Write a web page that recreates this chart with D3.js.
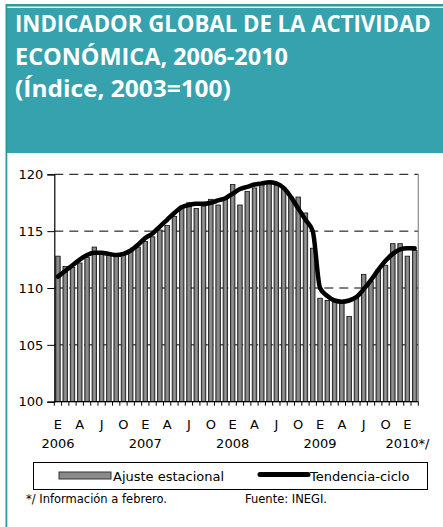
<!DOCTYPE html>
<html>
<head>
<meta charset="utf-8">
<script src="https://cdn.jsdelivr.net/npm/d3@7"></script>
<style>
  html, body { margin: 0; padding: 0; background: #fff; }
  svg { display: block; }
</style>
</head>
<body>
<div id="chart"></div>
<script>
// ── Data ─────────────────────────────────────────────────────────────────────
const titleLines = ['INDICADOR GLOBAL DE LA ACTIVIDAD', 'ECONÓMICA, 2006-2010', '(Índice, 2003=100)'];

// Jan 2006 .. Feb 2010 (50 months)
const ajusteEstacional = [
  112.8, 111.9, 111.8, 112.2, 112.7, 113.6, 113.1, 113.0, 113.0, 113.1, 113.3, 113.6,
  114.1, 114.5, 115.1, 115.5, 116.3, 117.2, 117.5, 117.0, 117.2, 117.8, 117.3, 117.8,
  119.1, 117.3, 118.5, 118.8, 119.1, 119.2, 119.0, 118.8, 118.0, 118.0, 116.6, 113.5,
  109.1, 108.9, 108.8, 108.8, 107.5, 109.1, 111.2, 110.6, 111.6, 112.0, 113.9, 113.9,
  112.8, 113.3
];
const tendenciaCiclo = [
  111.0, 111.5, 112.0, 112.5, 112.9, 113.1, 113.1, 113.0, 112.9, 113.0, 113.3, 113.8,
  114.4, 114.8, 115.4, 116.0, 116.6, 117.1, 117.3, 117.4, 117.4, 117.5, 117.7, 117.9,
  118.3, 118.7, 118.9, 119.1, 119.2, 119.3, 119.2, 118.8, 118.0, 117.0, 116.0, 115.0,
  110.0, 109.3, 108.9, 108.8, 108.9, 109.2, 109.9, 110.7, 111.6, 112.4, 113.0, 113.4,
  113.5, 113.5
];
const monthLetters = ['E', 'A', 'J', 'O'];       // every 3rd month
const yearLabels   = ['2006', '2007', '2008', '2009', '2010*/'];
const yTicks       = [100, 105, 110, 115, 120];
const legendNames  = ['Ajuste estacional', 'Tendencia-ciclo'];
const footNote     = '*/ Información a febrero.';
const sourceNote   = 'Fuente: INEGI.';

// ── Layout ───────────────────────────────────────────────────────────────────
const W = 443, H = 527;
const TEAL = '#35a2ae', TEAL_DARK = '#2a9a9c';
const FONT = 'DejaVu Sans, Verdana, sans-serif';
const plot = { left: 54.3, right: 418.3, top: 174.3, bottom: 401.7 };
const titleWidths = [416, 273, 216];

const svg = d3.select('#chart').append('svg')
  .attr('width', W).attr('height', H)
  .style('font-family', FONT);

// header / frame
svg.append('rect').attr('x', 6).attr('y', 4).attr('width', W - 6).attr('height', 2.5).attr('fill', TEAL_DARK);
svg.append('rect').attr('x', 6).attr('y', 8).attr('width', W - 6).attr('height', 145).attr('fill', TEAL);
svg.append('rect').attr('x', 5.5).attr('y', 4).attr('width', 1.8).attr('height', H - 4).attr('fill', TEAL_DARK);

// title lines, each squeezed horizontally to the reference width
titleLines.forEach((t, i) => {
  const g = svg.append('g');
  const txt = g.append('text')
    .attr('x', 0).attr('y', 0)
    .attr('fill', '#fff')
    .style('font-family', 'Open Sans, Lato, sans-serif')
    .style('font-weight', 'bold')
    .style('font-size', '24px')
    .text(t);
  const sx = titleWidths[i] / txt.node().getComputedTextLength();
  g.attr('transform', `translate(15,${32 + i * 32.5}) scale(${sx},1)`);
});

// ── Scales ───────────────────────────────────────────────────────────────────
const months = d3.range(ajusteEstacional.length);
const x = d3.scaleBand().domain(months).range([plot.left, plot.right]).paddingInner(0.38).paddingOuter(0.19);
const y = d3.scaleLinear().domain([100, 120]).range([plot.bottom, plot.top]);
const cx = i => x(i) + x.bandwidth() / 2;

// gridlines
svg.append('g').selectAll('line')
  .data(yTicks.filter(v => v > 100)).enter().append('line')
  .attr('x1', plot.left).attr('x2', plot.right)
  .attr('y1', d => y(d)).attr('y2', d => y(d))
  .attr('stroke', '#000').attr('stroke-width', 1)
  .attr('stroke-dasharray', '9,6');

// right border
svg.append('line')
  .attr('x1', plot.right).attr('x2', plot.right)
  .attr('y1', plot.top).attr('y2', plot.bottom)
  .attr('stroke', '#888').attr('stroke-width', 1.2);

// bars
const grad = svg.append('defs').append('linearGradient').attr('id', 'barGrad')
  .attr('x1', '0%').attr('x2', '100%');
grad.append('stop').attr('offset', '0%').attr('stop-color', '#666');
grad.append('stop').attr('offset', '50%').attr('stop-color', '#959595');
grad.append('stop').attr('offset', '100%').attr('stop-color', '#666');

svg.append('g').selectAll('rect')
  .data(ajusteEstacional).enter().append('rect')
  .attr('x', (d, i) => x(i))
  .attr('y', d => y(d))
  .attr('width', x.bandwidth())
  .attr('height', d => y(100) - y(d))
  .attr('fill', 'url(#barGrad)')
  .attr('stroke', '#111').attr('stroke-width', 0.8);

// axes
const yAxis = d3.axisLeft(y).tickValues(yTicks).tickSize(7).tickPadding(4);
const gy = svg.append('g').attr('transform', `translate(${plot.left},0)`).call(yAxis);
gy.select('.domain').attr('stroke', '#000').attr('stroke-width', 1.2);
gy.selectAll('.tick line').attr('stroke', '#000');
gy.selectAll('.tick text').style('font-family', FONT).style('font-size', '13px').attr('fill', '#000');

const step = x.step();
const gx = svg.append('g').attr('transform', `translate(0,${plot.bottom})`);
gx.append('line').attr('x1', plot.left).attr('x2', plot.right).attr('stroke', '#000').attr('stroke-width', 1.2);
gx.selectAll('line.tk').data(d3.range(months.length + 1)).enter().append('line')
  .attr('class', 'tk')
  .attr('x1', i => plot.left + i * step).attr('x2', i => plot.left + i * step)
  .attr('y1', 0).attr('y2', 4)
  .attr('stroke', '#000');
gx.selectAll('text.m').data(months.filter(i => i % 3 === 0)).enter().append('text')
  .attr('class', 'm')
  .attr('x', i => cx(i)).attr('y', 27)
  .attr('text-anchor', 'middle')
  .style('font-size', '13px')
  .text(i => monthLetters[(i / 3) % 4]);
gx.selectAll('text.yr').data(yearLabels).enter().append('text')
  .attr('class', 'yr')
  .attr('x', (d, j) => cx(j * 12)).attr('y', 46)
  .attr('text-anchor', 'middle')
  .style('font-size', '13px')
  .text(d => d);

// trend line
const line = d3.line().x((d, i) => cx(i)).y(d => y(d)).curve(d3.curveMonotoneX);
svg.append('path').datum(tendenciaCiclo)
  .attr('d', line)
  .attr('fill', 'none')
  .attr('stroke', '#000').attr('stroke-width', 4.5)
  .attr('stroke-linejoin', 'round').attr('stroke-linecap', 'round');

// ── Legend ───────────────────────────────────────────────────────────────────
const lg = svg.append('g');
lg.append('rect').attr('x', 33.5).attr('y', 462.5).attr('width', 394).attr('height', 27)
  .attr('fill', '#fff').attr('stroke', '#000').attr('stroke-width', 1);
lg.append('rect').attr('x', 59).attr('y', 472).attr('width', 52).attr('height', 7)
  .attr('fill', '#8a8a8a').attr('stroke', '#333').attr('stroke-width', 1);
lg.append('text').attr('x', 113).attr('y', 481).style('font-size', '13px').text(legendNames[0]);
lg.append('line').attr('x1', 260).attr('x2', 308).attr('y1', 474.5).attr('y2', 474.5)
  .attr('stroke', '#000').attr('stroke-width', 5).attr('stroke-linecap', 'round');
lg.append('text').attr('x', 310).attr('y', 481).style('font-size', '13px').text(legendNames[1]);

// ── Notes ────────────────────────────────────────────────────────────────────
svg.append('text').attr('x', 26).attr('y', 503).style('font-size', '11.5px').text(footNote);
svg.append('text').attr('x', 245).attr('y', 503).style('font-size', '11.5px').text(sourceNote);
</script>
</body>
</html>
